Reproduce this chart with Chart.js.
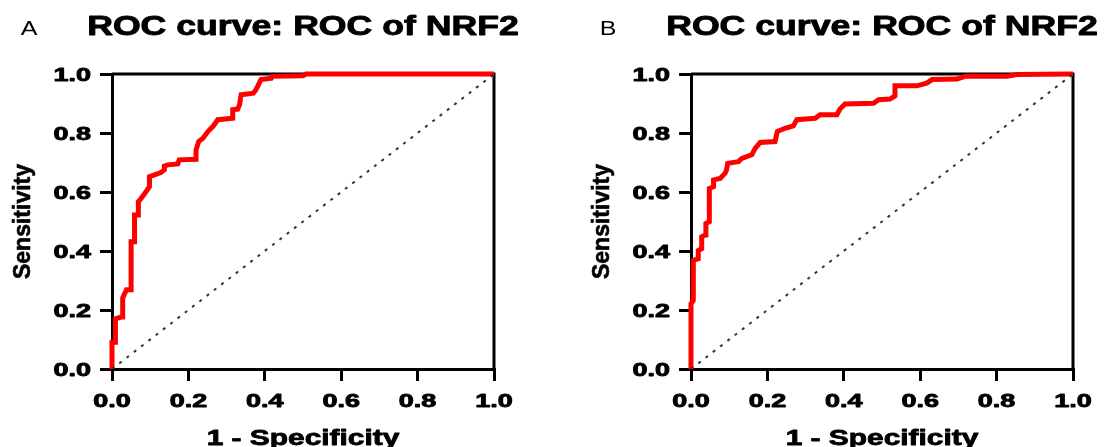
<!DOCTYPE html>
<html>
<head>
<meta charset="utf-8">
<script src="https://cdn.jsdelivr.net/npm/chart.js@4.4.1/dist/chart.umd.min.js"></script>
<style>
  html, body { margin: 0; padding: 0; background: #fff; }
  #wrap { position: relative; width: 1105px; height: 447px; overflow: hidden; }
  canvas { position: absolute; top: 0; }
</style>
</head>
<body>
<div id="wrap">
  <canvas id="rocA" width="552" height="447" style="left:0"></canvas>
  <canvas id="rocB" width="553" height="447" style="left:552px"></canvas>
</div>
<script>
// ROC of NRF2, two panels (A / B)

var FPR_A = [0, 0, 0.009, 0.009, 0.024, 0.028, 0.028, 0.038, 0.050, 0.050,
             0.059, 0.059, 0.069, 0.069, 0.076, 0.089, 0.098, 0.098, 0.111, 0.128,
             0.137, 0.137, 0.146, 0.172, 0.176, 0.220, 0.220, 0.227, 0.238, 0.251,
             0.264, 0.277, 0.316, 0.316, 0.329, 0.334, 0.338, 0.370, 0.377, 0.390,
             0.417, 0.419, 0.500, 0.508, 1.0];
var TPR_A = [0, 0.091, 0.091, 0.170, 0.176, 0.176, 0.241, 0.269, 0.269, 0.431,
             0.431, 0.522, 0.522, 0.567, 0.578, 0.601, 0.618, 0.652, 0.658, 0.666,
             0.675, 0.688, 0.692, 0.695, 0.709, 0.711, 0.743, 0.771, 0.782, 0.805,
             0.822, 0.845, 0.850, 0.879, 0.881, 0.896, 0.930, 0.935, 0.947, 0.981,
             0.986, 0.992, 0.994, 1.0, 1.0];

var FPR_B = [0, 0, 0.006, 0.006, 0.019, 0.019, 0.028, 0.028, 0.037, 0.039,
             0.048, 0.048, 0.059, 0.059, 0.076, 0.089, 0.093, 0.096, 0.124, 0.133,
             0.159, 0.168, 0.181, 0.220, 0.226, 0.246, 0.268, 0.277, 0.325, 0.338,
             0.382, 0.390, 0.403, 0.478, 0.491, 0.521, 0.534, 0.534, 0.591, 0.617,
             0.631, 0.696, 0.718, 0.827, 0.853, 1.0];
var TPR_B = [0, 0.221, 0.232, 0.368, 0.374, 0.402, 0.408, 0.448, 0.454, 0.493,
             0.499, 0.612, 0.618, 0.641, 0.646, 0.663, 0.675, 0.697, 0.703, 0.714,
             0.726, 0.748, 0.768, 0.771, 0.805, 0.816, 0.824, 0.845, 0.850, 0.862,
             0.862, 0.881, 0.898, 0.901, 0.913, 0.915, 0.926, 0.960, 0.960, 0.969,
             0.981, 0.983, 0.992, 0.992, 0.998, 1.0];

// reference line (chance)
var CHANCE_X = [0, 1];
var CHANCE_Y = [0, 1];

var TICK_VALUES = [0, 0.2, 0.4, 0.6, 0.8, 1.0];
var TICK_LABELS = ['0.0', '0.2', '0.4', '0.6', '0.8', '1.0'];

var TITLE = 'ROC curve: ROC of NRF2';
var X_TITLE = '1 - Specificity';
var Y_TITLE = 'Sensitivity';

var FONT = '"Liberation Sans", Arial, sans-serif';

function toPoints(xs, ys) {
    var pts = [];
    for (var i = 0; i < xs.length; i++) pts.push({ x: xs[i], y: ys[i] });
    return pts;
}

// text is drawn a bit wider than the font (the figure's text is stretched horizontally)
// heavy = extra stroke so the bold text looks as dark as in the figure
function wideText(ctx, txt, x, y, font, sx, align, base, rot, heavy) {
    ctx.save();
    ctx.font = font;
    ctx.fillStyle = '#000';
    ctx.strokeStyle = '#000';
    ctx.textAlign = align;
    ctx.textBaseline = base;
    ctx.translate(x, y);
    if (rot) ctx.rotate(rot);
    ctx.scale(sx, 1);
    ctx.fillText(txt, 0, 0);
    if (heavy) {
        ctx.lineWidth = heavy;
        ctx.lineJoin = 'round';
        ctx.strokeText(txt, 0, 0);
    }
    ctx.restore();
}

var framePlugin = {
    id: 'frame',
    beforeDatasetsDraw: function(chart) {
        var ctx = chart.ctx, ca = chart.chartArea;
        ctx.save();
        ctx.strokeStyle = '#000';
        ctx.lineWidth = 3;
        ctx.beginPath();
        ctx.moveTo(ca.left, ca.top);
        ctx.lineTo(ca.right, ca.top);
        ctx.lineTo(ca.right, ca.bottom);
        ctx.stroke();
        ctx.restore();
    }
};

var labelPlugin = {
    id: 'labels',
    afterDraw: function(chart) {
        var ctx = chart.ctx, ca = chart.chartArea;
        var xs = chart.scales.x, ys = chart.scales.y;
        var midX = (ca.left + ca.right) / 2;
        var midY = (ca.top + ca.bottom) / 2;
        var opts = chart.options.plugins.labels;

        wideText(ctx, opts.letter, ca.left - 83, 35, '20px ' + FONT, 1.25, 'center', 'alphabetic');
        wideText(ctx, TITLE, midX, 35, 'bold 27px ' + FONT, 1.32, 'center', 'alphabetic', 0, 0.9);

        ys.ticks.forEach(function(t, i) {
            wideText(ctx, TICK_LABELS[i], ca.left - 21, ys.getPixelForValue(t.value) + 7,
                     'bold 19px ' + FONT, 1.42, 'right', 'alphabetic', 0, 0.9);
        });
        xs.ticks.forEach(function(t, i) {
            wideText(ctx, TICK_LABELS[i], xs.getPixelForValue(t.value), ca.bottom + 38,
                     'bold 19px ' + FONT, 1.42, 'center', 'alphabetic', 0, 0.9);
        });

        wideText(ctx, X_TITLE, midX, ca.bottom + 76, 'bold 21.5px ' + FONT, 1.39, 'center', 'alphabetic', 0, 0.8);
        wideText(ctx, Y_TITLE, ca.left - 82, midY, 'bold 23px ' + FONT, 1, 'center', 'alphabetic', -Math.PI / 2, 0.6);
    }
};

function axisOpts(fitKey) {
    return {
        type: 'linear',
        min: 0,
        max: 1,
        afterBuildTicks: function(scale) {
            scale.ticks = TICK_VALUES.map(function(v) { return { value: v }; });
        },
        afterFit: function(scale) { scale[fitKey] = 15; },
        ticks: { display: false },
        grid: {
            display: true,
            drawOnChartArea: false,
            drawTicks: true,
            tickLength: 12,
            tickWidth: 3,
            tickColor: '#000',
            lineWidth: 3,
            color: '#000'
        },
        border: { display: true, width: 3, color: '#000' }
    };
}

function drawPanel(canvasId, letter, fpr, tpr, padLeft, padRight) {
    new Chart(document.getElementById(canvasId), {
        type: 'line',
        data: {
            datasets: [
                {
                    label: 'chance',
                    data: toPoints(CHANCE_X, CHANCE_Y),
                    borderColor: '#333',
                    borderWidth: 2,
                    borderDash: [3, 6.2],
                    pointRadius: 0,
                    fill: false
                },
                {
                    label: 'ROC',
                    data: toPoints(fpr, tpr),
                    borderColor: '#ff0000',
                    borderWidth: 5,
                    borderJoinStyle: 'miter',
                    pointRadius: 0,
                    tension: 0,
                    fill: false,
                    clip: false
                }
            ]
        },
        options: {
            responsive: false,
            animation: false,
            devicePixelRatio: 1,
            layout: { padding: { left: padLeft, right: padRight, top: 74, bottom: 63 } },
            scales: { x: axisOpts('height'), y: axisOpts('width') },
            plugins: {
                legend: { display: false },
                tooltip: { enabled: false },
                labels: { letter: letter }
            }
        },
        plugins: [framePlugin, labelPlugin]
    });
}

drawPanel('rocA', 'A', FPR_A, TPR_A, 97, 58);
drawPanel('rocB', 'B', FPR_B, TPR_B, 124, 32);
</script>
</body>
</html>
